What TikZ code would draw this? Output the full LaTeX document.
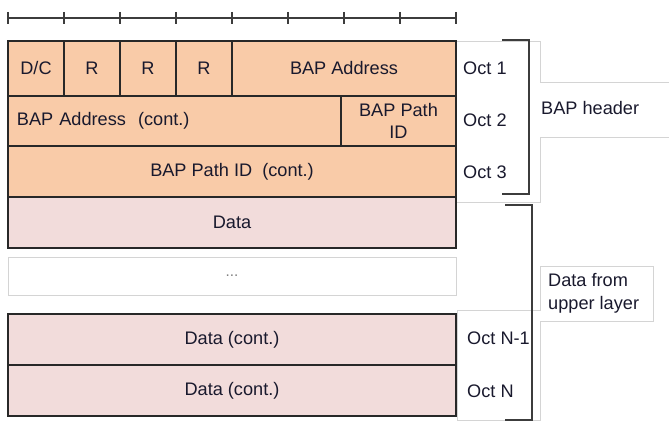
\documentclass[tikz,border=0pt]{standalone}
\usepackage{fontspec}
\setmainfont{Liberation Sans}
\usepackage{tikz}
\usetikzlibrary{positioning}

\definecolor{hdrorange}{RGB}{249,203,168}
\definecolor{datapink}{RGB}{242,220,219}
\definecolor{cellborder}{RGB}{40,40,40}
\definecolor{boxgray}{RGB}{212,212,212}
\definecolor{brk}{RGB}{60,60,60}
\definecolor{txt}{RGB}{25,25,45}

\tikzset{
	hdrcell/.style={draw=cellborder, fill=hdrorange, line width=1.1pt, inner sep=0pt, outer sep=0pt, text=txt, align=center},
	datacell/.style={hdrcell, fill=datapink},
	octlabel/.style={anchor=west, inner sep=0pt, text=txt},
	grayline/.style={draw=boxgray, line width=0.8pt},
	bracket/.style={draw=brk, line width=1.2pt},
	rulerline/.style={draw=brk, line width=1pt}
}

\begin{document}
\begin{tikzpicture}[x=0.03cm, y=-0.03cm, font=\fontsize{15.5}{18}\selectfont]
		\useasboundingbox (0,0) rectangle (669,422);

		% ruler
		\draw[rulerline] (8,18) -- (456,18);
		\foreach \i in {0,...,8}
			\draw[rulerline] (8+56*\i,12) -- (8+56*\i,24);

		% callout outlines
		\draw[grayline] (540,82) -- (540,41) -- (455,41) -- (455,202) -- (540,202) -- (540,137);
		\draw[grayline] (540,82) -- (669,82);
		\draw[grayline] (540,137) -- (669,137);
		\draw[grayline] (457,420) -- (457,310) -- (540,310) -- (540,266) -- (653,266) -- (653,321) -- (540,321) -- (540,420) -- cycle;

		% octet 1
		\node[hdrcell, minimum width=1.68cm, minimum height=1.65cm] (dc) at (36,68.5) {D/C};
		\node[hdrcell, minimum width=1.68cm, minimum height=1.65cm] (r1) at (92,68.5) {R};
		\node[hdrcell, minimum width=1.68cm, minimum height=1.65cm] (r2) at (148,68.5) {R};
		\node[hdrcell, minimum width=1.68cm, minimum height=1.65cm] (r3) at (204,68.5) {R};
		\node[hdrcell, minimum width=6.72cm, minimum height=1.65cm] (addr) at (344,68.5) {BAP Address};

		% octet 2
		\node[hdrcell, minimum width=9.99cm, minimum height=1.5cm, text width=9.45cm, align=left] (addrcont) at (174.5,121) {BAP Address~ (cont.)};
		\node[hdrcell, minimum width=3.45cm, minimum height=1.5cm] (pathid) at (398.5,121) {BAP Path\\[1pt] ID};

		% octet 3
		\node[hdrcell, minimum width=13.44cm, minimum height=1.53cm] (pathcont) at (232,171.5) {BAP Path ID~ (cont.)};

		% payload
		\node[datacell, minimum width=13.44cm, minimum height=1.53cm] (data) at (232,222.5) {Data};
		\node[draw=boxgray, line width=0.8pt, fill=white, minimum width=13.44cm, minimum height=1.14cm, inner sep=0pt, text=gray, font=\fontsize{13}{15}\selectfont] (dots) at (232,276) {...};
		\node[datacell, minimum width=13.44cm, minimum height=1.53cm] (datacont1) at (232,339.5) {Data (cont.)};
		\node[datacell, minimum width=13.44cm, minimum height=1.53cm] (datacont2) at (232,390.5) {Data (cont.)};

		% octet labels
		\node[octlabel] (oct1) at (463,68) {Oct 1};
		\node[octlabel] (oct2) at (463,120) {Oct 2};
		\node[octlabel] (oct3) at (463,172) {Oct 3};
		\node[octlabel] (octn1) at (467,338) {Oct N-1};
		\node[octlabel] (octn) at (467,391) {Oct N};

		% brackets
		\draw[bracket] (502,40) -- (529,40) -- (529,194) -- (502,194);
		\draw[bracket] (505,205) -- (532,205) -- (532,420) -- (505,420);

		\node[octlabel] (hdrlabel) at (541,108) {BAP header};
		\node[octlabel, align=left, font=\fontsize{15.5}{20}\selectfont] (uplabel) at (548,293.5) {Data from\\upper layer};

	\end{tikzpicture}
\end{document}
